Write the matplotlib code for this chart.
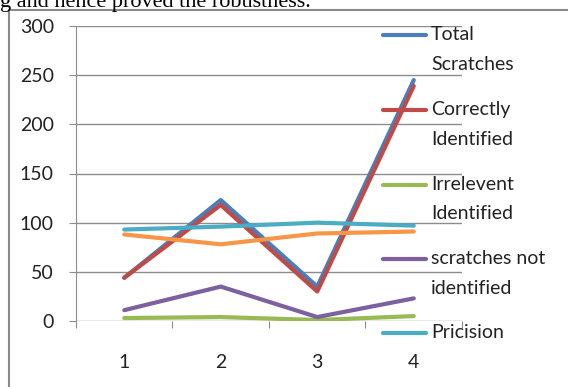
import numpy as np
import matplotlib
matplotlib.use('Agg')
import matplotlib.pyplot as plt
from matplotlib.lines import Line2D
from matplotlib.patches import Rectangle

plt.rcParams['font.family'] = ['Lato', 'DejaVu Sans']

# test image number on the x axis
images = [1, 2, 3, 4]

total_scratches = [44, 123, 35, 245]
correctly_identified = [44, 118, 30, 239]
irrelevent_identified = [3, 4, 1, 5]
not_identified = [11, 35, 4, 23]
pricision = [93, 96, 100, 97]
extra_series = [88, 78, 89, 91]   # 6th series, its key falls below the frame

names = ['Total\nScratches', 'Correctly\nIdentified', 'Irrelevent\nIdentified',
         'scratches not\nidentified', 'Pricision', '']
colors = ['#4a7ebb', '#be4b48', '#98b954', '#7d60a0', '#4bacc6', '#f79646']
series = [total_scratches, correctly_identified, irrelevent_identified,
          not_identified, pricision, extra_series]

W, H = 568, 387
fig = plt.figure(figsize=(W / 100, H / 100), dpi=100)

# surrounding frame and the line of body text above it
fig.patches.append(Rectangle((9 / W, -0.2), 1.2, 1 - 10 / H + 0.2,
                             transform=fig.transFigure, fill=False,
                             edgecolor='#8a8a8a', lw=1.5))
fig.text(0.0, 1 - 7 / H, 'g and hence proved the robustness.',
         family=['Liberation Serif', 'DejaVu Serif'], fontsize=16,
         va='baseline', ha='left', color='black')

ax = fig.add_axes([76 / W, 1 - 321 / H, (462 - 76) / W, (321 - 26) / H])
ax.patch.set_alpha(0)

for vals, c in zip(series, colors):
    ax.plot(images, vals, color=c, lw=3, solid_capstyle='round',
            solid_joinstyle='round')

ax.set_xlim(0.5, 4.5)
ax.set_ylim(0, 300)
ax.set_yticks(np.arange(0, 301, 50))
ax.yaxis.grid(True, color='#8c8c8c', lw=1)
ax.set_axisbelow(True)

for s in ['top', 'right', 'bottom']:
    ax.spines[s].set_visible(False)
ax.spines['left'].set_color('#8c8c8c')

ax.set_xticks([0.5, 1.5, 2.5, 3.5, 4.5])
ax.set_xticklabels([])
ax.set_xticks(images, minor=True)
ax.set_xticklabels([str(i) for i in images], minor=True)
ax.tick_params(axis='x', which='major', direction='out', length=5,
               color='#8c8c8c')
ax.tick_params(axis='x', which='minor', length=0, pad=24, labelsize=14,
               labelcolor='#222222')
ax.tick_params(axis='y', direction='out', length=5, color='#8c8c8c',
               pad=11, labelsize=14, labelcolor='#222222')

# key on the right, overlapping the plot area
row_y = [35, 110, 185, 259, 333]
for name, c, y0 in zip(names[:5], colors[:5], row_y):
    yf = 1 - y0 / H
    fig.add_artist(Line2D([383 / W, 426 / W], [yf, yf], color=c, lw=3,
                          solid_capstyle='round', transform=fig.transFigure))
    for i, part in enumerate(name.split('\n')):
        fig.text(431 / W, 1 - (y0 + 29 * i) / H, part, fontsize=14,
                 va='center', ha='left', color='#222222')

fig.savefig('out.png', dpi=100)
